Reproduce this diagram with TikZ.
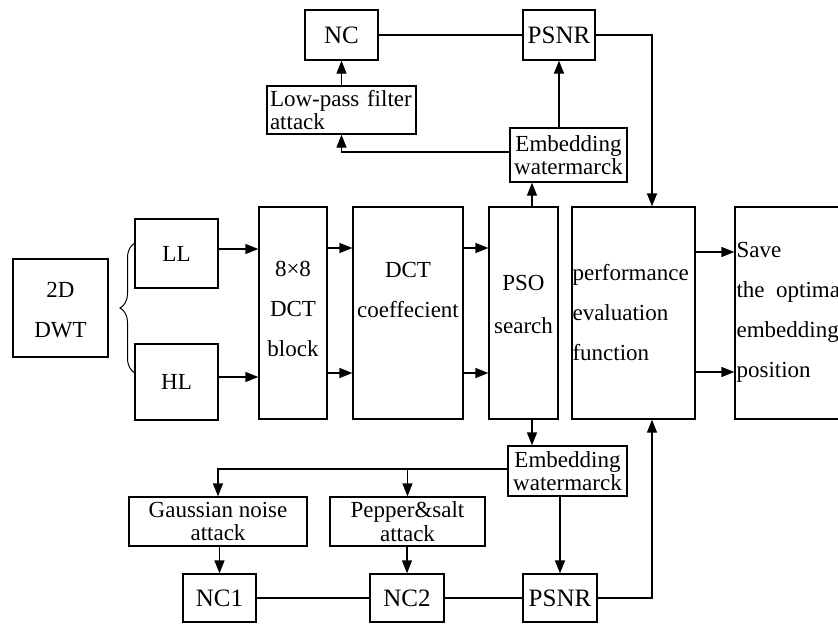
\documentclass[tikz,border=0pt]{standalone}
\usepackage{fontspec}
\setmainfont{Liberation Serif}
\usetikzlibrary{arrows.meta,decorations.pathreplacing,calc}
\begin{document}
\begin{tikzpicture}[x=1pt,y=-1pt,
  box/.style={draw, line width=1.3pt, inner sep=0pt, align=center,
    font=\fontsize{23}{23.5}\selectfont},
  txt/.style={inner sep=0pt, align=center, font=\fontsize{23}{40}\selectfont},
  big/.style={font=\fontsize{25}{25}\selectfont},
  ln/.style={line width=1.3pt},
  arr/.style={line width=1.3pt, -{Triangle[length=13pt,width=10pt]}}]
\clip (0,0) rectangle (838,624);
\fill[white] (0,0) rectangle (838,624);
% top row
\node[box, big, minimum width=73pt, minimum height=50pt] (nc) at (341.5,35) {NC};
\node[box, big, minimum width=72pt, minimum height=50pt] (psnrT) at (559,35) {PSNR};
\node[box, minimum width=149pt, minimum height=48pt, text width=143pt, align=left] (lpf) at (341.5,110) {\makebox[143pt][s]{Low-pass filter}\\attack};
\node[box, minimum width=117pt, minimum height=54pt] (embT) at (568.5,155) {Embedding\\watermarck};
% middle row
\node[box, minimum width=95pt, minimum height=98pt] (dwt) at (60.5,308) {};
\node[txt] at ([yshift=-2pt]dwt.center) {2D\\DWT};
\node[box, minimum width=83pt, minimum height=69pt] (LL) at (176.5,253.5) {LL};
\node[box, minimum width=83pt, minimum height=76pt] (HL) at (176.5,382) {HL};
\node[box, minimum width=68pt, minimum height=212pt] (blk) at (293,313) {};
\node[txt] at ([yshift=4pt]blk.center) {8×8\\DCT\\block};
\node[box, minimum width=110pt, minimum height=212pt] (coef) at (408,313) {};
\node[txt] at ([yshift=23pt]coef.center) {DCT\\coeffecient};
\node[box, minimum width=69pt, minimum height=212pt] (pso) at (523.5,313) {};
\node[txt, font=\fontsize{23}{43}\selectfont] at ([yshift=9pt]pso.center) {PSO\\search};
\node[box, minimum width=123pt, minimum height=212pt] (perf) at (633.5,313) {};
\node[txt, align=left, anchor=west] at ([xshift=1pt]perf.west) {performance\\evaluation\\function};
\node[box, minimum width=120pt, minimum height=212pt] (save) at (795,313) {};
\node[txt, align=left, anchor=west] at ([xshift=2pt,yshift=1pt]save.west) {Save\\the\ \ optimal\\embedding\\position};
% bottom
\node[box, minimum width=119pt, minimum height=50pt] (embB) at (567.5,471) {Embedding\\watermarck};
\node[box, minimum width=178pt, minimum height=49pt] (gauss) at (218,521.5) {Gaussian noise\\attack};
\node[box, minimum width=155pt, minimum height=49pt] (pepper) at (407.5,521.5) {Pepper\&salt\\attack};
\node[box, big, minimum width=73pt, minimum height=48pt] (nc1) at (219.5,598) {NC1};
\node[box, big, minimum width=74pt, minimum height=48pt] (nc2) at (407,598) {NC2};
\node[box, big, minimum width=74pt, minimum height=48pt] (psnrB) at (560,598) {PSNR};
% helper coordinates
\coordinate (xr) at (652,0);
\coordinate (xp) at (532,0);
\coordinate (ya) at (0,249);
\coordinate (yb) at (0,377);
\coordinate (yc) at (0,248);
\coordinate (yd) at (0,373);
\coordinate (ye) at (0,252);
\coordinate (yf) at (0,372);
\coordinate (bt) at (135,243);
\coordinate (bb) at (135,373);
\coordinate (eb) at ([yshift=2pt]embB.west);
% brace
\draw[line width=1pt, decorate, decoration={brace, amplitude=15pt}] (bb) -- (bt);
% connectors top
\draw[ln] (nc) -- (psnrT);
\draw[arr] (psnrT.east) -| (xr |- perf.north);
\draw[arr] (lpf.north) -- (nc.south);
\draw[arr] ([yshift=3pt]embT.west) -| (lpf.south);
\draw[arr] (psnrT.south |- embT.north) -- (psnrT.south);
\draw[arr] (xp |- pso.north) -- (xp |- embT.south);
% connectors middle
\draw[arr] (LL.east |- ya) -- (blk.west |- ya);
\draw[arr] (HL.east |- yb) -- (blk.west |- yb);
\draw[arr] (blk.east |- yc) -- (coef.west |- yc);
\draw[arr] (blk.east |- yd) -- (coef.west |- yd);
\draw[arr] (coef.east |- yc) -- (pso.west |- yc);
\draw[arr] (coef.east |- yd) -- (pso.west |- yd);
\draw[arr] (perf.east |- ye) -- (save.west |- ye);
\draw[arr] (perf.east |- yf) -- (save.west |- yf);
% connectors bottom
\draw[arr] (xp |- pso.south) -- (xp |- embB.north);
\draw[arr] (eb) -| (gauss.north);
\draw[arr] (pepper.north |- eb) -- (pepper.north);
\draw[arr] (psnrB.north |- embB.south) -- (psnrB.north);
\draw[arr] (nc1.north |- gauss.south) -- (nc1.north);
\draw[arr] (nc2.north |- pepper.south) -- (nc2.north);
\draw[ln] (nc1) -- (nc2);
\draw[ln] (nc2) -- (psnrB);
\draw[arr] (psnrB.east) -| (xr |- perf.south);
\end{tikzpicture}
\end{document}
